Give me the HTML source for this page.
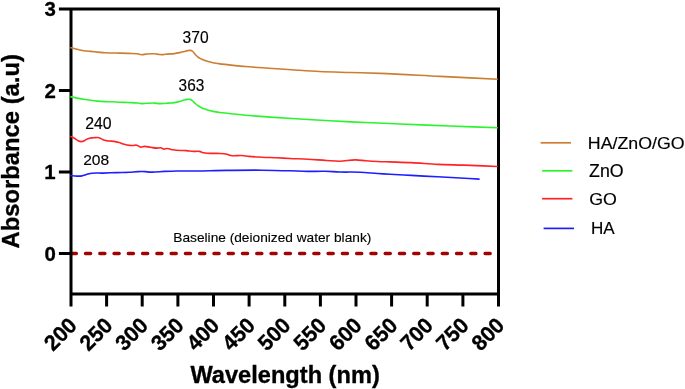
<!DOCTYPE html>
<html><head><meta charset="utf-8"><title>UV-Vis</title>
<style>
html,body{margin:0;padding:0;background:#fff;}
svg{display:block;will-change:transform;}
text{font-family:"Liberation Sans",sans-serif;fill:#000;font-size:20px;stroke:#000;stroke-width:0.2px;}
.b{font-weight:bold;stroke:#000;stroke-width:0.3px;stroke-linejoin:round;}
</style></head><body>
<svg width="685" height="389" viewBox="0 0 685 389">
<rect width="685" height="389" fill="#fff"/>
<line x1="71.2" y1="253.5" x2="491" y2="253.5" stroke="#A00303" stroke-width="3.3" stroke-linecap="round" stroke-dasharray="5.2 9.07"/>
<path d="M71.0,306.6 L71.0,8.9 L498.5,8.9 L498.5,306.6 M71.0,294.0 L498.5,294.0 M58.9,253.4 L71.0,253.4 M58.9,171.9 L71.0,171.9 M58.9,90.4 L71.0,90.4 M58.9,8.9 L71.0,8.9 M106.6,294.0 L106.6,306.6 M142.2,294.0 L142.2,306.6 M177.9,294.0 L177.9,306.6 M213.5,294.0 L213.5,306.6 M249.1,294.0 L249.1,306.6 M284.8,294.0 L284.8,306.6 M320.4,294.0 L320.4,306.6 M356.0,294.0 L356.0,306.6 M391.6,294.0 L391.6,306.6 M427.2,294.0 L427.2,306.6 M462.9,294.0 L462.9,306.6" stroke="#000" stroke-width="3.0" fill="none" stroke-linecap="butt" stroke-linejoin="miter"/>
<g fill="none" stroke-width="1.6" stroke-linejoin="round" stroke-linecap="butt">
<path d="M70.3,47.5 C72.47,48.07 74.63,48.68 76.8,49.2 C79.13,49.76 81.47,50.33 83.8,50.7 C86.13,51.07 88.47,51.17 90.8,51.4 C93.13,51.63 95.47,51.87 97.8,52.1 C100.13,52.33 102.47,52.65 104.8,52.8 C107.13,52.95 109.47,52.95 111.8,53.0 C114.53,53.06 117.27,53.04 120.0,53.1 C122.93,53.17 125.87,53.28 128.8,53.4 C131.70,53.52 134.60,53.31 137.5,53.8 C138.83,54.02 140.17,54.61 141.5,54.7 C143.10,54.81 144.70,54.25 146.3,54.1 C149.20,53.83 152.10,53.53 155.0,53.8 C156.47,53.94 157.93,54.37 159.4,54.5 C160.57,54.60 161.73,54.64 162.9,54.6 C164.37,54.55 165.83,54.24 167.3,54.1 C169.63,53.87 171.97,53.92 174.3,53.6 C176.10,53.36 177.90,52.99 179.7,52.6 C181.20,52.27 182.70,51.87 184.2,51.5 C185.40,51.20 186.60,50.78 187.8,50.6 C188.70,50.47 189.60,50.20 190.5,50.4 C191.27,50.57 192.03,50.84 192.8,51.5 C193.53,52.13 194.27,53.37 195.0,54.2 C195.90,55.21 196.80,56.16 197.7,56.9 C198.90,57.89 200.10,58.38 201.3,59.0 C202.50,59.62 203.70,60.13 204.9,60.6 C207.60,61.66 210.30,62.23 213.0,62.8 C216.00,63.43 219.00,63.72 222.0,64.1 C225.00,64.48 228.00,64.78 231.0,65.1 C237.00,65.73 243.00,66.30 249.0,66.8 C255.57,67.35 262.13,67.74 268.7,68.2 C277.47,68.81 286.23,69.43 295.0,70.0 C303.13,70.53 311.27,71.10 319.4,71.5 C329.60,72.00 339.80,72.18 350.0,72.5 C360.00,72.81 370.00,73.03 380.0,73.4 C400.00,74.13 420.00,75.42 440.0,76.4 C459.27,77.35 478.53,78.27 497.8,79.2" stroke="#CC7D30"/>
<path d="M70.3,96.6 C72.47,97.10 74.63,97.68 76.8,98.1 C79.13,98.56 81.47,98.83 83.8,99.2 C86.13,99.57 88.47,99.98 90.8,100.3 C93.13,100.62 95.47,100.88 97.8,101.1 C100.13,101.32 102.47,101.48 104.8,101.6 C107.13,101.72 109.47,101.71 111.8,101.8 C114.53,101.90 117.27,102.09 120.0,102.2 C122.93,102.32 125.87,102.37 128.8,102.5 C131.70,102.63 134.60,102.65 137.5,103.0 C138.83,103.16 140.17,103.53 141.5,103.6 C143.10,103.69 144.70,103.38 146.3,103.3 C149.20,103.16 152.10,102.90 155.0,103.1 C156.47,103.20 157.93,103.53 159.4,103.6 C160.87,103.67 162.33,103.58 163.8,103.5 C165.27,103.42 166.73,103.23 168.2,103.1 C170.23,102.92 172.27,102.90 174.3,102.6 C176.10,102.34 177.90,101.99 179.7,101.5 C181.20,101.09 182.70,100.39 184.2,100.0 C185.13,99.76 186.07,99.51 187.0,99.4 C187.87,99.29 188.73,99.13 189.6,99.3 C190.23,99.42 190.87,99.59 191.5,100.0 C192.07,100.36 192.63,100.98 193.2,101.5 C194.07,102.29 194.93,103.27 195.8,104.0 C196.73,104.79 197.67,105.38 198.6,106.0 C199.47,106.57 200.33,107.16 201.2,107.6 C202.13,108.07 203.07,108.35 204.0,108.7 C205.50,109.27 207.00,109.85 208.5,110.3 C210.00,110.75 211.50,111.08 213.0,111.4 C216.00,112.03 219.00,112.32 222.0,112.7 C225.00,113.08 228.00,113.38 231.0,113.7 C237.00,114.34 243.00,114.97 249.0,115.5 C256.00,116.12 263.00,116.60 270.0,117.1 C280.00,117.81 290.00,118.38 300.0,119.0 C310.00,119.62 320.00,120.25 330.0,120.8 C341.67,121.44 353.33,121.97 365.0,122.5 C376.67,123.03 388.33,123.51 400.0,124.0 C416.67,124.69 433.33,125.35 450.0,126.0 C465.93,126.62 481.87,127.20 497.8,127.8" stroke="#2CF42C"/>
<path d="M70.3,136.4 C70.90,136.60 71.50,136.75 72.1,137.0 C73.13,137.43 74.17,138.05 75.2,138.7 C76.20,139.33 77.20,140.32 78.2,140.8 C79.23,141.30 80.27,141.60 81.3,141.6 C82.13,141.60 82.97,141.45 83.8,141.1 C84.67,140.73 85.53,139.86 86.4,139.4 C87.43,138.85 88.47,138.47 89.5,138.2 C90.83,137.85 92.17,137.92 93.5,137.8 C94.87,137.68 96.23,137.31 97.6,137.5 C98.47,137.62 99.33,137.87 100.2,138.2 C101.40,138.65 102.60,139.64 103.8,140.1 C105.50,140.75 107.20,140.78 108.9,141.0 C110.60,141.22 112.30,141.13 114.0,141.4 C115.70,141.67 117.40,142.12 119.1,142.6 C120.80,143.08 122.50,143.83 124.2,144.3 C125.90,144.77 127.60,145.21 129.3,145.4 C130.67,145.55 132.03,145.56 133.4,145.5 C134.47,145.46 135.53,145.04 136.6,145.2 C137.97,145.41 139.33,146.95 140.7,147.1 C141.90,147.24 143.10,146.48 144.3,146.4 C146.33,146.26 148.37,147.03 150.4,147.3 C152.80,147.61 155.20,148.18 157.6,148.1 C158.63,148.06 159.67,147.67 160.7,147.8 C161.87,147.94 163.03,149.07 164.2,149.1 C165.07,149.12 165.93,148.59 166.8,148.5 C168.83,148.30 170.87,149.48 172.9,149.8 C175.63,150.23 178.37,150.38 181.1,150.5 C182.80,150.58 184.50,150.50 186.2,150.6 C188.60,150.74 191.00,151.28 193.4,151.4 C195.40,151.50 197.40,151.03 199.4,151.4 C200.87,151.67 202.33,152.43 203.8,152.8 C208.17,153.89 212.53,153.10 216.9,153.4 C220.30,153.64 223.70,153.41 227.1,154.3 C228.33,154.62 229.57,155.20 230.8,155.5 C234.43,156.38 238.07,155.23 241.7,155.5 C244.13,155.68 246.57,156.15 249.0,156.4 C253.40,156.84 257.80,156.97 262.2,157.2 C267.07,157.45 271.93,157.57 276.8,157.8 C281.17,158.01 285.53,158.29 289.9,158.5 C295.77,158.78 301.63,158.89 307.5,159.2 C313.83,159.54 320.17,160.12 326.5,160.5 C330.87,160.76 335.23,161.23 339.6,161.2 C344.97,161.16 350.33,159.78 355.7,159.9 C359.10,159.98 362.50,160.54 365.9,160.8 C369.80,161.09 373.70,161.32 377.6,161.5 C381.73,161.69 385.87,161.77 390.0,161.9 C397.10,162.13 404.20,162.25 411.3,162.6 C420.07,163.03 428.83,163.98 437.6,164.4 C446.33,164.82 455.07,164.81 463.8,165.1 C475.13,165.47 486.47,166.03 497.8,166.5" stroke="#FF2424"/>
<path d="M70.3,175.5 C72.47,175.70 74.63,176.06 76.8,176.1 C78.53,176.13 80.27,176.22 82.0,175.9 C83.17,175.68 84.33,175.27 85.5,174.9 C86.67,174.53 87.83,174.03 89.0,173.7 C93.67,172.38 98.33,173.28 103.0,173.1 C107.67,172.92 112.33,172.74 117.0,172.6 C121.10,172.48 125.20,172.53 129.3,172.3 C132.20,172.13 135.10,171.70 138.0,171.6 C140.37,171.51 142.73,171.47 145.1,171.6 C146.83,171.70 148.57,172.00 150.3,172.1 C155.00,172.37 159.70,171.59 164.4,171.4 C168.47,171.23 172.53,171.06 176.6,171.0 C180.40,170.94 184.20,171.01 188.0,171.0 C200.90,170.95 213.80,170.53 226.7,170.4 C238.40,170.28 250.10,170.09 261.8,170.2 C271.20,170.29 280.60,170.52 290.0,170.8 C295.83,170.97 301.67,171.32 307.5,171.4 C313.33,171.48 319.17,171.16 325.0,171.3 C329.87,171.41 334.73,171.84 339.6,172.0 C346.43,172.22 353.27,171.90 360.1,172.2 C365.93,172.46 371.77,173.10 377.6,173.5 C381.73,173.78 385.87,174.05 390.0,174.3 C397.10,174.72 404.20,175.03 411.3,175.4 C420.07,175.86 428.83,176.33 437.6,176.8 C451.60,177.55 465.60,178.33 479.6,179.1" stroke="#1E1EFF"/>
</g>
<text transform="translate(182.58,43.19) scale(0.7801,0.8045)">370</text>
<text transform="translate(178.59,91.49) scale(0.7708,0.8117)">363</text>
<text transform="translate(85.16,128.50) scale(0.7900,0.7901)">240</text>
<text transform="translate(83.17,165.30) scale(0.7805,0.7758)">208</text>
<text transform="translate(173.35,242.35) scale(0.6858,0.6850)">Baseline (deionized water blank)</text>
<text transform="translate(589.12,176.87) scale(0.8891,0.8715)">ZnO</text>
<text transform="translate(589.16,204.68) scale(0.8883,0.8506)">GO</text>
<text transform="translate(590.88,234.05) scale(0.8535,0.8322)">HA</text>
<text class="b" transform="translate(190.45,382.95) scale(1.1811,1.1670)">Wavelength (nm)</text>
<text class="b" transform="translate(44.39,16.34) scale(1.0200,1.0400)">3</text>
<text class="b" transform="translate(44.39,97.84) scale(1.0200,1.0400)">2</text>
<text class="b" transform="translate(44.19,179.34) scale(1.0200,1.0400)">1</text>
<text class="b" transform="translate(44.39,260.84) scale(1.0200,1.0400)">0</text>
<text transform="translate(587.83,148.53) scale(0.8895,0.8715)">HA/ZnO/GO</text>
<text class="b" transform="translate(19.06,248.38) rotate(-90) scale(1.1898,1.1600)">Absorbance (a.u)</text>
<text class="b" transform="translate(72.7,321.2) rotate(-45) scale(1.07,1.09)" x="0" y="7.2" text-anchor="end">200</text>
<text class="b" transform="translate(108.3,321.2) rotate(-45) scale(1.07,1.09)" x="0" y="7.2" text-anchor="end">250</text>
<text class="b" transform="translate(143.9,321.2) rotate(-45) scale(1.07,1.09)" x="0" y="7.2" text-anchor="end">300</text>
<text class="b" transform="translate(179.6,321.2) rotate(-45) scale(1.07,1.09)" x="0" y="7.2" text-anchor="end">350</text>
<text class="b" transform="translate(215.2,321.2) rotate(-45) scale(1.07,1.09)" x="0" y="7.2" text-anchor="end">400</text>
<text class="b" transform="translate(250.8,321.2) rotate(-45) scale(1.07,1.09)" x="0" y="7.2" text-anchor="end">450</text>
<text class="b" transform="translate(286.4,321.2) rotate(-45) scale(1.07,1.09)" x="0" y="7.2" text-anchor="end">500</text>
<text class="b" transform="translate(322.1,321.2) rotate(-45) scale(1.07,1.09)" x="0" y="7.2" text-anchor="end">550</text>
<text class="b" transform="translate(357.7,321.2) rotate(-45) scale(1.07,1.09)" x="0" y="7.2" text-anchor="end">600</text>
<text class="b" transform="translate(393.3,321.2) rotate(-45) scale(1.07,1.09)" x="0" y="7.2" text-anchor="end">650</text>
<text class="b" transform="translate(428.9,321.2) rotate(-45) scale(1.07,1.09)" x="0" y="7.2" text-anchor="end">700</text>
<text class="b" transform="translate(464.6,321.2) rotate(-45) scale(1.07,1.09)" x="0" y="7.2" text-anchor="end">750</text>
<text class="b" transform="translate(500.2,321.2) rotate(-45) scale(1.07,1.09)" x="0" y="7.2" text-anchor="end">800</text>
<g fill="none" stroke-width="1.7">
<line x1="540.6" y1="142.8" x2="571" y2="142.8" stroke="#CC7D30"/>
<line x1="542.1" y1="170.8" x2="572.4" y2="170.8" stroke="#2CF42C"/>
<line x1="542.1" y1="198.7" x2="572.4" y2="198.7" stroke="#FF2424"/>
<line x1="543.6" y1="228.4" x2="574" y2="228.4" stroke="#1E1EFF"/>
</g>
</svg>
</body></html>
